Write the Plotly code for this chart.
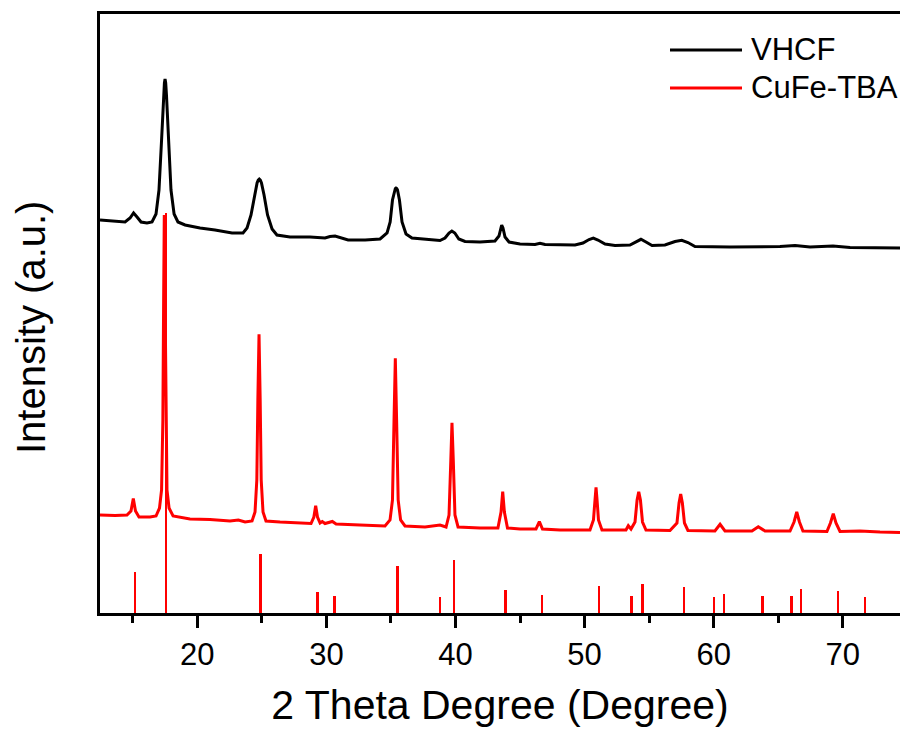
import plotly.graph_objects as go

# ---- VHCF (black) : 2theta (deg), intensity (a.u., offset) ----
vhcf_x = [12.46, 13.47, 14.40, 14.79, 15.06, 15.33, 15.64, 16.10, 16.49, 16.80, 17.03, 17.23, 17.38, 17.45, 17.50,
          17.55, 17.61, 17.77, 17.96, 18.20, 18.50, 19.05, 20.21, 21.37, 22.69, 23.54, 23.85, 24.16, 24.43, 24.63,
          24.72, 24.80, 24.88, 24.97, 25.17, 25.44, 25.79, 26.17, 27.18, 28.73, 29.89, 30.28, 30.67, 31.06, 31.68, 33.00,
          34.16, 34.70, 34.94, 35.12, 35.28, 35.34, 35.39, 35.45, 35.51, 35.66, 35.86, 36.17, 36.63, 38.03, 38.80, 39.19,
          39.50, 39.72, 39.95, 40.26, 40.74, 41.90, 43.06, 43.37, 43.49, 43.58, 43.68, 43.84, 44.15, 45.00,
          46.16, 46.55, 46.94, 49.26, 49.88, 50.35, 50.68, 51.04, 51.59, 52.36, 53.52, 53.99, 54.37, 54.76,
          55.23, 56.23, 57.01, 57.53, 58.01, 58.56, 61.27, 65.14, 66.31, 67.47, 69.25, 70.57, 74.44]
vhcf_y = [393, 392, 391, 395, 400, 396, 391, 390, 391, 399, 423, 473, 518, 530, 534,
          530, 518, 473, 423, 399, 391, 388, 385, 383, 380, 380, 385, 398, 418, 430,
          433, 434, 433, 430, 418, 398, 384, 378, 376, 376, 375, 376.5, 377, 375.5, 373, 373,
          374, 380, 391, 413, 423, 424.5, 425, 424.5, 423, 413, 391, 379, 375, 373, 372.5, 375,
          380, 382, 380, 374, 371.5, 371, 372, 377, 385, 388, 385, 376, 371, 369,
          368.5, 369.7, 368.5, 368, 370, 373.5, 375, 373, 369, 367.5, 368, 371.5, 373.7, 371,
          367.5, 368, 371.5, 372.7, 370.5, 366.5, 366, 366.5, 367.5, 366, 367, 365.5, 365]

# ---- CuFe-TBA (red) : 2theta (deg), intensity (a.u., offset) ----
cufe_x = [12.46, 13.63, 14.55, 14.86, 15.04, 15.21, 15.48, 16.34, 16.80, 17.07, 17.23, 17.33, 17.39, 17.44,
          17.50, 17.56, 17.65, 17.81, 18.12, 19.43, 20.98, 22.53, 23.18, 23.70, 24.24, 24.47, 24.61, 24.69,
          24.78, 24.87, 24.95, 25.09, 25.32, 26.41, 27.96, 28.81, 29.03, 29.17, 29.31, 29.51, 29.68, 29.89,
          30.46, 30.75, 32.60, 34.54, 34.93, 35.12, 35.24, 35.34, 35.44, 35.56, 35.75, 36.09, 37.64, 38.80,
          39.27, 39.50, 39.64, 39.73, 39.83, 39.96, 40.20, 41.90, 43.29, 43.53, 43.66, 43.79, 44.03, 45.00,
          46.24, 46.50, 46.74, 48.10, 50.42, 50.69, 50.81, 50.89, 50.97, 51.08, 51.35, 52.75, 53.21, 53.39,
          53.60, 53.91, 54.07, 54.20, 54.33, 54.49, 54.76, 56.62, 57.16, 57.32, 57.45, 57.58, 57.74, 58.01,
          60.10, 60.50, 60.88, 62.97, 63.46, 63.98, 65.92, 66.23, 66.44, 66.65, 66.92, 68.78, 69.05, 69.27,
          69.48, 69.79, 71.34, 72.89, 74.44]
cufe_y = [98, 97.5, 98, 102, 114.5, 102, 96, 96, 97, 105, 123, 193, 313, 398,
          313, 193, 123, 105, 97, 94, 93.5, 92, 93, 91, 92, 101, 133, 213,
          278.7, 213, 133, 101, 92, 91, 90, 89.5, 96, 107.3, 96, 90, 91.5, 89.5,
          91.5, 89, 88, 87, 93, 113, 193, 254.7, 193, 113, 93, 87, 86, 88,
          86, 98, 153, 190.3, 153, 98, 86, 85, 85, 101, 121.3, 101, 85, 84,
          84, 91.3, 84, 83, 83, 93, 113, 125.7, 113, 93, 83, 82.5, 83, 87.3,
          84, 91, 113, 121.3, 113, 91, 83, 82.5, 90, 110, 119, 110, 90, 82.5,
          82, 88.7, 82, 82, 86.3, 82, 82, 91, 101, 91, 82, 81.5, 90, 99.3,
          90, 81.5, 82, 81, 80.5]

# ---- reference pattern sticks ----
ref_x = [15.18, 17.58, 24.91, 29.30, 30.61, 35.50, 38.80, 39.89, 43.89, 46.70, 51.12,
         53.65, 54.48, 57.70, 60.03, 60.80, 63.80, 66.02, 66.77, 69.64, 71.73]
ref_h = [41.3, 400, 59, 21.3, 17, 47, 16.3, 53, 23, 17.7, 27,
         16.7, 29.3, 26, 15.7, 18.7, 17.3, 16.7, 23.7, 21.7, 16.3]

x_ticks = [20, 30, 40, 50, 60, 70]
series_names = ["VHCF", "CuFe-TBA"]
colors = ["#000000", "#ff0000"]

FONT = "Liberation Sans, Arial, sans-serif"

fig = go.Figure()
fig.add_trace(go.Bar(x=ref_x, y=ref_h, width=0.21, marker=dict(color=colors[1], line=dict(width=0)),
                     showlegend=False, hoverinfo="x"))
fig.add_trace(go.Scatter(x=cufe_x, y=cufe_y, mode="lines", name=series_names[1],
                         line=dict(color=colors[1], width=3), showlegend=False))
fig.add_trace(go.Scatter(x=vhcf_x, y=vhcf_y, mode="lines", name=series_names[0],
                         line=dict(color=colors[0], width=3), showlegend=False))

# manual legend (long line samples)
W, H = 900, 734
L, R, T, B = 100, 0, 14, 121
pw, ph = W - L - R, H - T - B
def px(x): return (x - L) / pw
def py(y): return (H - B - y) / ph
for i, (nm, c) in enumerate(zip(series_names, colors)):
    yy = 50 + 38 * i
    fig.add_shape(type="line", xref="paper", yref="paper", x0=px(670), x1=px(742), y0=py(yy), y1=py(yy),
                  line=dict(color=c, width=3))
    fig.add_annotation(xref="paper", yref="paper", x=px(749), y=py(yy), text=nm, showarrow=False,
                       xanchor="left", yanchor="middle", font=dict(family=FONT, size=31, color="black"))

fig.add_annotation(xref="paper", yref="paper", x=px(31), y=py(328), text="Intensity (a.u.)", textangle=-90,
                   showarrow=False, xanchor="center", yanchor="middle",
                   font=dict(family=FONT, size=40, color="black"))

fig.update_layout(
    width=W, height=H, margin=dict(l=L, r=R, t=T, b=B),
    paper_bgcolor="white", plot_bgcolor="white", bargap=0,
    font=dict(family=FONT, color="black"),
    xaxis=dict(range=[12.46, 74.44], showline=True, linecolor="black", linewidth=2.5, mirror=True,
               ticks="outside", ticklen=12, tickwidth=2.5, tickcolor="black",
               tickvals=x_ticks, ticktext=[str(v) for v in x_ticks],
               minor=dict(ticks="outside", ticklen=7, tickwidth=2.5, tickcolor="black", dtick=5, tick0=0),
               tickfont=dict(size=31, family=FONT), showgrid=False, zeroline=False,
               title=dict(text="2 Theta Degree (Degree)", font=dict(size=41, family=FONT), standoff=20)),
    yaxis=dict(range=[0, 599], showline=True, linecolor="black", linewidth=2.5, showticklabels=False,
               ticks="", showgrid=False, zeroline=False),
)
fig.write_html("out.html")
